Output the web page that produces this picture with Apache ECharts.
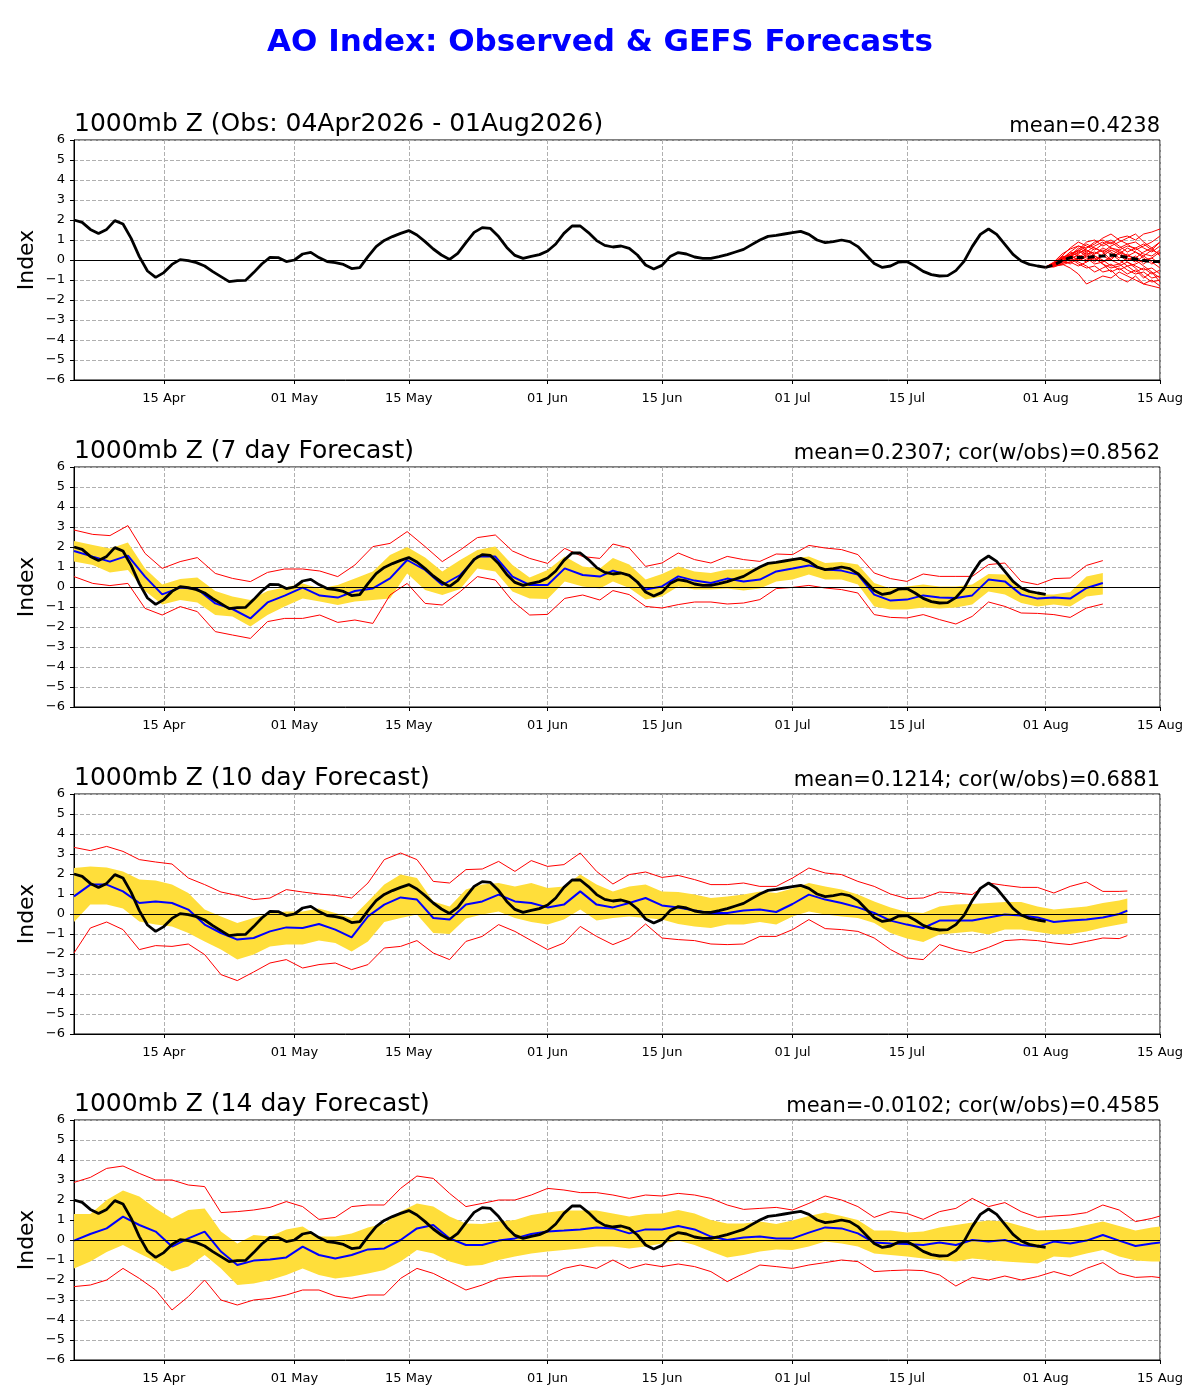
<!DOCTYPE html>
<html lang="en">
<head>
  <meta charset="UTF-8">
  <script src="https://cdn.jsdelivr.net/npm/echarts@6.0.0/dist/echarts.min.js"></script>
  <title>AO Index</title>
  <style>
    html, body { margin: 0; padding: 0; background: #fff; }
    .container { width: 1200px; height: 1400px; }
  </style>
</head>
<body>
  <div class="container"></div>
  <script>
    // x positions are days counted from 04 Apr 2026
    const tickDays = [11, 27, 41, 58, 72, 88, 102, 119, 133];
    const tickLabels = ['15 Apr', '01 May', '15 May', '01 Jun', '15 Jun', '01 Jul', '15 Jul', '01 Aug', '15 Aug'];

    const panelTitles = ['1000mb Z (Obs: 04Apr2026 - 01Aug2026)', '1000mb Z (7 day Forecast)', '1000mb Z (10 day Forecast)', '1000mb Z (14 day Forecast)'];
    const panelStats = ['mean=0.4238', 'mean=0.2307; cor(w/obs)=0.8562', 'mean=0.1214; cor(w/obs)=0.6881', 'mean=-0.0102; cor(w/obs)=0.4585'];

    // observed AO, one value per day from 04 Apr to 01 Aug
    const obs = [2.0, 1.88, 1.53, 1.33, 1.53, 1.97, 1.8, 1.08, 0.17, -0.55,
      -0.87, -0.63, -0.22, 0.02, -0.03, -0.13, -0.3, -0.58, -0.83, -1.08,
      -1.03, -1.02, -0.63, -0.2, 0.13, 0.12, -0.08, 0.0, 0.3, 0.38,
      0.12, -0.08, -0.13, -0.22, -0.43, -0.38, 0.17, 0.67, 0.98, 1.17,
      1.33, 1.47, 1.25, 0.92, 0.55, 0.25, 0.03, 0.33, 0.87, 1.38,
      1.62, 1.58, 1.17, 0.63, 0.23, 0.08, 0.18, 0.27, 0.45, 0.8,
      1.33, 1.7, 1.7, 1.37, 0.97, 0.73, 0.65, 0.7, 0.58, 0.25,
      -0.25, -0.45, -0.27, 0.17, 0.37, 0.3, 0.15, 0.08, 0.08, 0.17,
      0.27, 0.4, 0.53, 0.77, 1.0, 1.18, 1.23, 1.3, 1.37, 1.43,
      1.28, 1.0, 0.87, 0.92, 1.0, 0.92, 0.67, 0.25, -0.17, -0.37,
      -0.3, -0.1, -0.08, -0.3, -0.57, -0.73, -0.8, -0.78, -0.53, -0.07,
      0.67, 1.28, 1.55, 1.28, 0.78, 0.28, -0.05, -0.22, -0.3, -0.37];

    // GEFS members from 01 Aug to 15 Aug (panel 1)
    const ensDays = [119, 120, 121, 122, 123, 124, 125, 126, 127, 128, 129, 130, 131, 132, 133];
    const ensMean = [-0.37, -0.25, -0.03, 0.12, 0.12, 0.12, 0.17, 0.2, 0.25, 0.2, 0.13, 0.05, -0.03, -0.08, -0.08];
    const ensMembers = [
      [-0.35, -0.1, 0.3, 0.55, 0.7, 0.6, 0.9, 1.0, 0.8, 1.1, 1.2, 1.0, 1.3, 1.4, 1.55],
      [-0.35, -0.3, -0.2, -0.4, -0.7, -1.2, -1.0, -0.8, -0.9, -0.6, -0.8, -1.0, -1.2, -1.3, -1.4],
      [-0.35, -0.15, 0.2, 0.6, 0.9, 0.7, 0.5, 0.8, 1.0, 0.7, 0.4, 0.6, 0.3, 0.2, 0.5],
      [-0.35, -0.3, -0.1, 0.1, -0.2, -0.4, -0.3, -0.6, -0.5, -0.9, -1.1, -0.8, -1.2, -1.0, -1.3],
      [-0.35, -0.2, 0.1, 0.3, 0.5, 0.9, 1.0, 0.7, 0.9, 0.6, 0.8, 0.5, 0.7, 0.9, 1.2],
      [-0.35, -0.25, 0.0, 0.2, 0.0, 0.3, 0.4, 0.2, 0.5, 0.3, -0.1, -0.3, -0.5, -0.4, -0.7],
      [-0.35, -0.35, -0.2, 0.05, 0.25, 0.1, -0.2, -0.1, 0.1, 0.3, 0.6, 0.4, 0.2, 0.5, 0.3],
      [-0.35, -0.2, 0.05, 0.4, 0.7, 0.5, 0.3, 0.6, 0.4, 0.1, 0.3, 0.0, -0.3, -0.6, -0.9],
      [-0.35, -0.3, -0.05, 0.0, 0.3, 0.6, 0.8, 1.1, 1.3, 1.0, 0.8, 0.9, 0.6, 0.4, 0.7],
      [-0.35, -0.25, -0.15, -0.1, 0.1, -0.1, 0.2, 0.0, -0.3, -0.2, -0.5, -0.7, -0.6, -0.9, -0.8],
      [-0.35, -0.3, 0.15, 0.25, 0.0, 0.2, -0.1, 0.3, 0.6, 0.5, 0.2, 0.4, 0.1, -0.2, 0.0],
      [-0.35, -0.2, -0.1, 0.3, 0.45, 0.2, 0.6, 0.4, 0.0, -0.2, 0.1, -0.1, 0.2, -0.1, -0.4],
      [-0.35, -0.25, 0.05, 0.15, 0.4, 0.8, 0.6, 0.4, 0.7, 0.9, 1.1, 1.3, 0.9, 0.6, 0.9],
      [-0.35, -0.3, -0.25, -0.1, -0.3, -0.1, 0.1, -0.2, -0.4, -0.3, -0.1, -0.4, -0.8, -1.1, -1.0],
      [-0.35, -0.15, 0.1, 0.2, 0.5, 0.3, 0.0, 0.2, 0.0, 0.4, 0.2, 0.1, 0.4, 0.6, 0.2],
      [-0.35, -0.3, 0.0, 0.4, 0.2, 0.0, 0.3, 0.5, 0.3, 0.0, -0.3, -0.2, 0.0, 0.1, -0.2],
      [-0.35, -0.25, -0.1, 0.2, 0.35, 0.5, 0.2, -0.1, 0.2, 0.5, 0.7, 0.6, 0.8, 0.5, 0.9],
      [-0.35, -0.2, 0.2, 0.1, -0.1, -0.3, -0.6, -0.4, -0.2, -0.5, -0.3, -0.6, -0.4, -0.7, -0.5],
      [-0.35, -0.3, -0.1, 0.2, 0.6, 0.4, 0.7, 0.9, 0.6, 0.4, 0.0, 0.2, -0.2, 0.1, 0.4],
      [-0.35, -0.15, 0.0, -0.2, 0.1, 0.4, 0.1, -0.2, -0.6, -0.4, -0.7, -0.5, -0.9, -0.6, -1.1]
    ];

    // 7 day forecast: max, spread top, mean, spread bottom, min
    const fc7Days = [0, 2.3, 4.4, 6.6, 8.7, 10.8, 13, 15.1, 17.3, 19.4, 21.6, 23.7, 25.8, 28, 30.1, 32.3, 34.4, 36.6, 38.7, 40.8, 43, 45.1, 47.3, 49.4, 51.6, 53.7, 55.8, 58, 60.1, 62.3, 64.4,
      66, 68, 70, 72, 74, 76, 78, 80, 82, 84, 86, 88, 90, 92, 94, 96, 98, 100, 102, 104, 106, 108, 110, 112, 114, 116, 118, 120, 122, 124, 126];
    const fc7Hi = [2.85, 2.63, 2.57, 3.07, 1.68, 0.93, 1.27, 1.47, 0.68, 0.43, 0.27, 0.73, 0.9, 0.9, 0.8, 0.52, 1.1, 2.02, 2.18, 2.77, 2.02, 1.27, 1.85, 2.47, 2.6, 1.8, 1.43, 1.18, 1.93, 1.52, 1.43,
      2.15, 1.95, 1.03, 1.2, 1.7, 1.37, 1.2, 1.53, 1.37, 1.28, 1.65, 1.62, 2.08, 1.95, 1.87, 1.62, 0.7, 0.42, 0.28, 0.65, 0.53, 0.53, 0.53, 1.12, 1.2, 0.28, 0.12, 0.42, 0.45, 1.08, 1.32];
    const fc7BandHi = [2.3, 2.1, 1.93, 2.23, 0.93, 0.13, 0.4, 0.47, -0.2, -0.48, -0.65, -0.2, -0.03, 0.18, -0.07, 0.1, 0.43, 0.77, 1.6, 2.0, 1.47, 0.77, 1.35, 1.85, 2.02, 1.1, 0.47, 0.85, 1.52, 1.02, 0.93,
      1.45, 1.12, 0.37, 0.65, 1.03, 0.78, 0.7, 0.87, 0.87, 0.95, 1.28, 1.42, 1.53, 1.2, 1.25, 1.12, 0.2, -0.08, 0.03, 0.12, 0.03, 0.03, 0.12, 0.65, 0.62, -0.13, -0.38, -0.38, -0.25, 0.53, 0.7];
    const fc7Mean = [1.8, 1.52, 1.27, 1.57, 0.52, -0.37, -0.03, -0.1, -0.82, -1.1, -1.57, -0.77, -0.43, -0.03, -0.43, -0.53, -0.2, -0.07, 0.43, 1.35, 0.85, 0.1, 0.6, 1.52, 1.52, 0.52, 0.1, 0.1, 0.93, 0.6, 0.52,
      0.82, 0.58, -0.13, 0.03, 0.53, 0.32, 0.2, 0.42, 0.28, 0.37, 0.78, 0.92, 1.08, 0.87, 0.82, 0.62, -0.38, -0.68, -0.63, -0.42, -0.52, -0.55, -0.42, 0.37, 0.28, -0.38, -0.58, -0.52, -0.58, -0.05, 0.2];
    const fc7BandLo = [1.27, 1.1, 0.73, 0.85, -0.2, -0.87, -0.65, -0.77, -1.4, -1.48, -1.98, -1.4, -0.98, -0.57, -0.73, -0.9, -0.73, -0.65, -0.57, 0.68, -0.15, -0.4, -0.1, 0.93, 0.77, -0.23, -0.57, -0.6, 0.27, 0.02, -0.07,
      0.28, -0.05, -0.63, -0.47, 0.03, -0.13, -0.13, -0.08, -0.18, -0.08, 0.28, 0.37, 0.62, 0.37, 0.37, 0.12, -0.97, -1.13, -1.13, -1.02, -1.08, -1.02, -0.88, -0.22, -0.38, -0.8, -0.97, -0.88, -0.97, -0.47, -0.38];
    const fc7Lo = [0.52, 0.18, 0.07, 0.18, -1.07, -1.4, -0.98, -1.23, -2.23, -2.4, -2.57, -1.73, -1.57, -1.57, -1.4, -1.77, -1.65, -1.82, -0.4, 0.18, -0.82, -0.9, -0.23, 0.52, 0.35, -0.7, -1.4, -1.37, -0.57, -0.4, -0.65,
      -0.18, -0.38, -0.97, -1.05, -0.88, -0.75, -0.75, -0.85, -0.8, -0.63, -0.08, -0.02, 0.08, -0.05, -0.13, -0.3, -1.38, -1.52, -1.55, -1.38, -1.63, -1.85, -1.47, -0.75, -0.97, -1.3, -1.32, -1.38, -1.52, -1.05, -0.85];

    // 10 day forecast
    const fc10Days = [0, 2, 4, 6, 8, 10, 12, 14, 16, 18, 20, 22, 24, 26, 28, 30, 32, 34, 36, 38, 40, 42, 44, 46, 48, 50, 52, 54, 56, 58, 60, 62, 64,
      66, 68, 70, 72, 74, 76, 78, 80, 82, 84, 86, 88, 90, 92, 94, 96, 98, 100, 102, 104, 106, 108, 110, 112, 114, 116, 118, 120, 122, 124, 126, 128, 129];
    const fc10Hi = [3.33, 3.17, 3.38, 3.13, 2.72, 2.6, 2.5, 1.8, 1.47, 1.1, 0.93, 0.72, 0.8, 1.22, 1.1, 1.0, 0.93, 0.8, 1.55, 2.72, 3.05, 2.72, 1.63, 1.55, 2.22, 2.25, 2.63, 2.13, 2.67, 2.38, 2.47, 3.05, 2.13,
      1.5, 1.97, 2.1, 1.83, 1.93, 1.72, 1.47, 1.47, 1.55, 1.38, 1.38, 1.8, 2.3, 2.05, 1.97, 1.63, 1.38, 1.0, 0.77, 0.8, 1.1, 1.05, 0.97, 1.55, 1.43, 1.33, 1.33, 1.05, 1.38, 1.6, 1.13, 1.13, 1.15];
    const fc10BandHi = [2.3, 2.38, 2.33, 2.13, 1.72, 1.67, 1.47, 1.05, 0.22, -0.12, -0.45, -0.2, 0.05, 0.13, 0.13, 0.27, 0.05, -0.2, 0.63, 1.47, 1.97, 1.8, 0.63, 0.38, 1.22, 1.47, 1.55, 1.38, 1.55, 1.3, 1.38, 1.97, 1.47,
      1.13, 1.38, 1.47, 1.13, 1.1, 0.97, 0.8, 0.88, 0.97, 1.13, 1.05, 1.27, 1.55, 1.38, 1.22, 0.97, 0.63, 0.33, 0.1, 0.05, 0.38, 0.47, 0.5, 0.55, 0.6, 0.6, 0.38, 0.22, 0.3, 0.38, 0.55, 0.67, 0.77];
    const fc10Mean = [0.88, 1.47, 1.47, 1.13, 0.55, 0.63, 0.55, 0.22, -0.53, -0.95, -1.28, -1.2, -0.87, -0.67, -0.7, -0.5, -0.78, -1.17, -0.12, 0.47, 0.83, 0.72, -0.2, -0.28, 0.47, 0.63, 0.97, 0.63, 0.55, 0.33, 0.47, 1.13, 0.47,
      0.33, 0.55, 0.8, 0.43, 0.33, 0.17, 0.05, 0.05, 0.17, 0.22, 0.1, 0.5, 0.97, 0.72, 0.55, 0.33, 0.05, -0.33, -0.53, -0.7, -0.33, -0.33, -0.33, -0.17, -0.03, -0.07, -0.17, -0.4, -0.33, -0.28, -0.17, 0.0, 0.17];
    const fc10BandLo = [-0.4, 0.47, 0.47, 0.27, -0.37, -0.53, -0.62, -0.95, -1.37, -1.78, -2.28, -2.03, -1.62, -1.53, -1.53, -1.33, -1.45, -1.87, -1.37, -0.4, -0.2, -0.03, -0.95, -1.0, -0.23, -0.03, 0.13, -0.2, -0.4, -0.53, -0.28, 0.22, -0.33,
      -0.2, -0.12, -0.2, -0.28, -0.5, -0.62, -0.7, -0.53, -0.53, -0.4, -0.53, -0.12, 0.13, -0.03, -0.12, -0.2, -0.45, -0.95, -1.23, -1.4, -1.03, -0.95, -0.87, -1.03, -0.78, -0.78, -0.9, -1.03, -1.0, -0.87, -0.67, -0.53, -0.45];
    const fc10Lo = [-1.95, -0.7, -0.4, -0.78, -1.78, -1.58, -1.62, -1.5, -2.03, -3.03, -3.33, -2.9, -2.45, -2.28, -2.7, -2.53, -2.45, -2.78, -2.53, -1.7, -1.62, -1.33, -1.95, -2.28, -1.37, -1.12, -0.53, -0.87, -1.33, -1.78, -1.45, -0.62, -1.12,
      -1.53, -1.2, -0.5, -1.2, -1.28, -1.33, -1.5, -1.53, -1.5, -1.12, -1.12, -0.78, -0.28, -0.73, -0.78, -0.87, -1.2, -1.78, -2.2, -2.28, -1.53, -1.78, -1.95, -1.67, -1.33, -1.28, -1.33, -1.45, -1.53, -1.37, -1.2, -1.23, -1.08];

    // 14 day forecast
    const fc14Days = [0, 2, 4, 6, 8, 10, 12, 14, 16, 18, 20, 22, 24, 26, 28, 30, 32, 34, 36, 38, 40, 42, 44, 46, 48, 50, 52, 54, 56, 58, 60, 62, 64,
      66, 68, 70, 72, 74, 76, 78, 80, 82, 84, 86, 88, 90, 92, 94, 96, 98, 100, 102, 104, 106, 108, 110, 112, 114, 116, 118, 120, 122, 124, 126, 128, 130, 132, 133];
    const fc14Hi = [2.88, 3.13, 3.58, 3.7, 3.33, 3.0, 3.0, 2.75, 2.67, 1.37, 1.42, 1.5, 1.63, 1.92, 1.67, 1.03, 1.13, 1.67, 1.75, 1.75, 2.58, 3.2, 3.08, 2.33, 1.67, 1.83, 2.0, 2.0, 2.25, 2.58, 2.5, 2.37, 2.37,
      2.25, 2.08, 2.25, 2.2, 2.33, 2.25, 2.08, 1.75, 1.53, 1.58, 1.63, 1.5, 1.83, 2.2, 2.0, 1.67, 1.13, 1.42, 1.33, 1.03, 1.42, 1.58, 2.08, 1.67, 1.87, 1.42, 1.13, 1.2, 1.25, 1.37, 1.75, 1.5, 0.92, 1.08, 1.2];
    const fc14BandHi = [1.3, 1.3, 2.0, 2.47, 2.17, 1.58, 1.08, 1.5, 1.58, 0.42, -0.17, 0.25, 0.17, 0.53, 0.67, 0.17, 0.17, 0.33, 0.63, 0.83, 1.42, 1.83, 1.67, 1.17, 0.83, 0.8, 0.92, 1.0, 1.25, 1.37, 1.47, 1.47, 1.47,
      1.33, 1.17, 1.3, 1.33, 1.5, 1.33, 1.0, 0.83, 0.83, 0.92, 0.8, 0.97, 1.2, 1.37, 1.2, 1.0, 0.47, 0.47, 0.37, 0.42, 0.63, 0.75, 0.87, 0.97, 0.92, 0.7, 0.47, 0.5, 0.58, 0.75, 0.92, 0.7, 0.47, 0.63, 0.67];
    const fc14Mean = [-0.03, 0.3, 0.58, 1.17, 0.75, 0.42, -0.33, 0.08, 0.42, -0.58, -1.25, -1.03, -0.97, -0.87, -0.33, -0.75, -0.92, -0.75, -0.47, -0.42, 0.0, 0.58, 0.75, 0.08, -0.25, -0.25, -0.03, 0.08, 0.3, 0.42, 0.47, 0.53, 0.63,
      0.58, 0.33, 0.53, 0.53, 0.7, 0.53, 0.17, 0.0, 0.13, 0.17, 0.08, 0.08, 0.37, 0.63, 0.58, 0.33, -0.13, -0.17, -0.2, -0.25, -0.13, -0.25, 0.0, -0.08, 0.0, -0.25, -0.33, -0.08, -0.17, -0.03, 0.25, -0.03, -0.3, -0.17, -0.13];
    const fc14BandLo = [-1.42, -1.08, -0.6, -0.25, -0.67, -1.08, -1.58, -1.33, -0.75, -1.42, -2.25, -2.17, -2.0, -1.75, -1.42, -1.75, -1.92, -1.83, -1.67, -1.5, -1.08, -0.5, -0.67, -1.08, -1.3, -1.25, -1.0, -0.83, -0.67, -0.58, -0.5, -0.42, -0.33,
      -0.33, -0.42, -0.33, -0.17, -0.03, -0.25, -0.58, -0.87, -0.75, -0.58, -0.47, -0.5, -0.33, -0.08, -0.17, -0.33, -0.67, -0.75, -0.83, -0.92, -1.0, -1.08, -0.92, -1.0, -1.08, -1.13, -1.17, -0.83, -0.87, -0.67, -0.5, -0.83, -1.03, -1.08, -1.08];
    const fc14Lo = [-2.33, -2.25, -2.0, -1.42, -1.92, -2.5, -3.5, -2.83, -2.0, -3.0, -3.25, -3.0, -2.92, -2.75, -2.5, -2.5, -2.8, -2.92, -2.75, -2.75, -1.92, -1.42, -1.67, -2.08, -2.5, -2.25, -1.92, -1.83, -1.8, -1.8, -1.42, -1.25, -1.42,
      -1.0, -1.42, -1.2, -1.33, -1.2, -1.33, -1.58, -2.08, -1.67, -1.25, -1.33, -1.42, -1.25, -1.13, -1.0, -1.08, -1.58, -1.53, -1.5, -1.53, -1.75, -2.3, -1.87, -2.0, -1.8, -2.0, -1.83, -1.58, -1.8, -1.42, -1.13, -1.67, -1.87, -1.83, -1.88];

    const FONT = 'DejaVu Sans';
    const YELLOW = '#ffde3a';
    const tops = [140, 467, 794, 1120];

    const pair = (days, vals) => vals.slice(0, days.length).map((v, k) => [days[k], v]);

    const line = (i, data, color, width, extra) => Object.assign({
      type: 'line', xAxisIndex: i, yAxisIndex: i, data,
      symbol: 'none', showSymbol: false, silent: true,
      lineStyle: { color, width },
      itemStyle: { color },
    }, extra || {});

    const obsSeries = (i) => line(i, obs.map((v, d) => [d, v]), '#000', 2.8, {
      z: 5,
      markLine: {
        silent: true, symbol: ['none', 'none'], label: { show: false },
        lineStyle: { color: '#000', width: 1, type: 'solid' },
        data: [{ yAxis: 0 }],
      },
    });

    // yellow spread: one polygon, corners mapped through the grid's own axes
    const band = (i, days, lo, hi) => ({
      type: 'custom', xAxisIndex: i, yAxisIndex: i, silent: true, z: 1, clip: true,
      data: [[days[0], lo[0]]],
      renderItem: (params, api) => {
        const upper = days.map((d, k) => api.coord([d, hi[k]]));
        const lower = days.map((d, k) => api.coord([d, lo[k]])).reverse();
        return {
          type: 'polygon',
          shape: { points: upper.concat(lower) },
          style: { fill: YELLOW, stroke: null },
        };
      },
    });

    const forecast = (i, days, hi, bandHi, mean, bandLo, lo) => [
      band(i, days, bandLo, bandHi),
      line(i, pair(days, hi), '#ff0000', 1, { z: 3 }),
      line(i, pair(days, lo), '#ff0000', 1, { z: 3 }),
      line(i, pair(days, mean), '#0000ff', 2, { z: 4 }),
      obsSeries(i),
    ];

    const series = [
      ...ensMembers.map(m => line(0, pair(ensDays, m), '#ff0000', 1, { z: 3 })),
      obsSeries(0),
      line(0, pair(ensDays, ensMean), '#000', 3, { z: 6, lineStyle: { color: '#000', width: 3, type: [7, 4] } }),
      ...forecast(1, fc7Days, fc7Hi, fc7BandHi, fc7Mean, fc7BandLo, fc7Lo),
      ...forecast(2, fc10Days, fc10Hi, fc10BandHi, fc10Mean, fc10BandLo, fc10Lo),
      ...forecast(3, fc14Days, fc14Hi, fc14BandHi, fc14Mean, fc14BandLo, fc14Lo),
    ];

    const dash = { color: '#b0b0b0', width: 1, type: [4, 2] };
    const tickFont = { fontFamily: FONT, fontSize: 13, color: '#000' };

    const chart = echarts.init(document.querySelector('.container'), null, { renderer: 'canvas' });
    chart.setOption({
      animation: false,
      backgroundColor: '#fff',
      title: [
        {
          text: 'AO Index: Observed & GEFS Forecasts', left: 'center', top: 27, padding: 0,
          textStyle: { fontFamily: FONT, fontSize: 31, fontWeight: 'bold', color: '#0000ff' },
        },
        ...panelTitles.map((t, i) => ({
          text: t, left: 74, top: tops[i] - 28, padding: 0,
          textStyle: { fontFamily: FONT, fontSize: 25, fontWeight: 'normal', color: '#000' },
        })),
        ...panelStats.map((t, i) => ({
          text: t, right: 40, top: tops[i] - 24, padding: 0,
          textStyle: { fontFamily: FONT, fontSize: 21, fontWeight: 'normal', color: '#000' },
        })),
      ],
      grid: tops.map(top => ({
        left: 74, right: 40, top, height: 240, containLabel: false, outerBoundsMode: 'none',
        show: true, borderColor: '#000', borderWidth: 1, backgroundColor: 'transparent',
      })),
      xAxis: tops.map((_, i) => ({
        type: 'value', gridIndex: i, min: 0, max: 133,
        axisLine: { show: true, onZero: false, lineStyle: { color: '#000', width: 1 } },
        axisTick: { show: true, customValues: tickDays, length: 4, lineStyle: { color: '#000' } },
        axisLabel: {
          show: true, customValues: tickDays, margin: 12, ...tickFont,
          formatter: (v) => tickLabels[tickDays.indexOf(v)] || '',
        },
        splitLine: { show: true, lineStyle: dash },
      })),
      yAxis: tops.map((_, i) => ({
        type: 'value', gridIndex: i, min: -6, max: 6, interval: 1,
        name: 'Index', nameLocation: 'middle', nameGap: 36, nameMoveOverlap: false,
        nameTextStyle: { fontFamily: FONT, fontSize: 22, color: '#000' },
        axisLine: { show: true, onZero: false, lineStyle: { color: '#000', width: 1 } },
        axisTick: { show: true, length: 4, lineStyle: { color: '#000' } },
        axisLabel: { margin: 9, ...tickFont, formatter: (v) => String(v).replace('-', '\u2212') },
        splitLine: { show: true, lineStyle: dash },
      })),
      series,
    });
  </script>
</body>
</html>
